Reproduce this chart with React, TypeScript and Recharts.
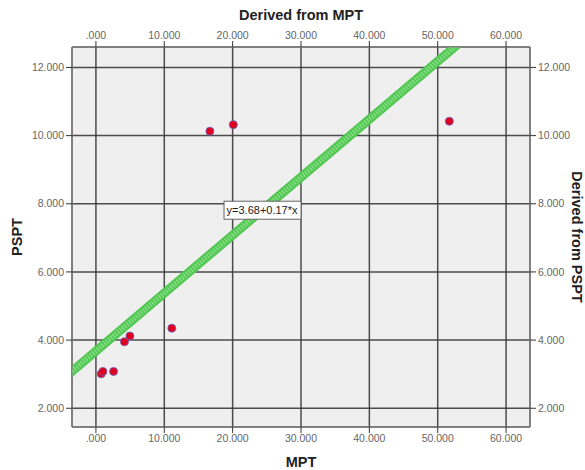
import { ScatterChart, Scatter, XAxis, YAxis, CartesianGrid, ReferenceLine, ReferenceDot } from 'recharts'

// values
const mptValues = [0.78, 1.02, 2.58, 4.18, 4.97, 11.1, 16.67, 20.1, 51.7]
const psptValues = [3.01, 3.08, 3.08, 3.95, 4.12, 4.35, 10.13, 10.32, 10.42]
const xTicks = [0, 10, 20, 30, 40, 50, 60]
const yTicks = [2, 4, 6, 8, 10, 12]
const fitIntercept = 3.68
const fitSlope = 0.17
const fitLabel = 'y=3.68+0.17*x'

const xDomain = [-3.5, 63.5]
const yDomain = [1.45, 12.6]

const data = mptValues.map((mpt, i) => ({ mpt, pspt: psptValues[i] }))
const fit = (x: number) => fitIntercept + fitSlope * x
const fitStart = xDomain[0] - 5
const fitEnd = 60
const labelX = 24.3

const font = '"Liberation Sans", Arial, sans-serif'
const fmt = (v: number) => (v === 0 ? '.000' : v.toFixed(3))
const tickStyle = { fontSize: 10.5, fill: '#666', fontFamily: font }
const tickLine = { stroke: '#333' }
const axisLine = { stroke: '#888' }

const title = (value: string, side: 'top' | 'bottom' | 'left' | 'right') => (props: any) => {
    const vb = props.viewBox || {}
    const common = { fontSize: 14.5, fontWeight: 700, fill: '#222', fontFamily: font, textAnchor: 'middle' as const }
    if (side === 'top' || side === 'bottom') {
        const x = vb.x + vb.width / 2
        const y = side === 'top' ? vb.y + 20 : vb.y + 40
        return <text x={x} y={y} {...common}>{value}</text>
    }
    const cy = vb.y + vb.height / 2
    const cx = side === 'left' ? vb.x + 22 : vb.x + 42
    const angle = side === 'left' ? -90 : 90
    return (
        <text x={cx} y={cy} transform={`rotate(${angle} ${cx} ${cy})`} {...common}>
            {value}
        </text>
    )
}

const FitBox = (props: any) => {
    const { cx, cy } = props
    return (
        <g>
            <rect x={cx - 38} y={cy - 9} width={77} height={18} fill="#fff" stroke="#666" />
            <text x={cx} y={cy + 4} textAnchor="middle" fontSize={11} fill="#222" fontFamily={font}>
                {fitLabel}
            </text>
        </g>
    )
}

const Dot = (props: any) => (
    <circle cx={props.cx} cy={props.cy} r={4} fill="#e0001f" stroke="#6b5fb5" strokeWidth={0.8} />
)

export default function App() {
    return (
        <div style={{ position: 'absolute', left: 0, top: 0, background: '#fff' }}>
            <ScatterChart width={585} height={470} margin={{ top: 0, right: 0, bottom: 0, left: 0 }}>
                <CartesianGrid fill="#efefef" stroke="#3a3a3a" strokeWidth={1.5} strokeOpacity={0.9} />
                <XAxis
                    dataKey="mpt"
                    type="number"
                    domain={xDomain}
                    allowDataOverflow
                    ticks={xTicks}
                    tickFormatter={fmt}
                    height={43}
                    tick={tickStyle}
                    tickLine={tickLine}
                    axisLine={axisLine}
                    tickSize={6}
                    tickMargin={2}
                    label={{ content: title('MPT', 'bottom') }}
                />
                <XAxis
                    xAxisId="top"
                    dataKey="mpt"
                    orientation="top"
                    type="number"
                    domain={xDomain}
                    allowDataOverflow
                    ticks={xTicks}
                    tickFormatter={fmt}
                    height={47}
                    tick={tickStyle}
                    tickLine={tickLine}
                    axisLine={axisLine}
                    tickSize={6}
                    tickMargin={2}
                    interval={0}
                    label={{ content: title('Derived from MPT', 'top') }}
                />
                <YAxis
                    dataKey="pspt"
                    type="number"
                    domain={yDomain}
                    allowDataOverflow
                    ticks={yTicks}
                    tickFormatter={fmt}
                    width={72}
                    tick={tickStyle}
                    tickLine={tickLine}
                    axisLine={axisLine}
                    tickSize={6}
                    tickMargin={2}
                    label={{ content: title('PSPT', 'left') }}
                />
                <YAxis
                    yAxisId="right"
                    orientation="right"
                    type="number"
                    domain={yDomain}
                    allowDataOverflow
                    ticks={yTicks}
                    tickFormatter={fmt}
                    width={55}
                    tick={tickStyle}
                    tickLine={tickLine}
                    axisLine={axisLine}
                    tickSize={6}
                    tickMargin={2}
                    label={{ content: title('Derived from PSPT', 'right') }}
                />
                <ReferenceLine
                    segment={[{ x: fitStart, y: fit(fitStart) }, { x: fitEnd, y: fit(fitEnd) }]}
                    stroke="#52c752"
                    strokeWidth={9}
                    ifOverflow="hidden"
                />
                <ReferenceLine
                    segment={[{ x: fitStart, y: fit(fitStart) }, { x: fitEnd, y: fit(fitEnd) }]}
                    stroke="#86de86"
                    strokeWidth={5}
                    strokeDasharray="1.5 1.5"
                    ifOverflow="hidden"
                />
                <Scatter data={data} shape={Dot} isAnimationActive={false} />
                <ReferenceDot x={labelX} y={fit(labelX)} r={0} shape={FitBox} ifOverflow="visible" />
            </ScatterChart>
        </div>
    )
}
